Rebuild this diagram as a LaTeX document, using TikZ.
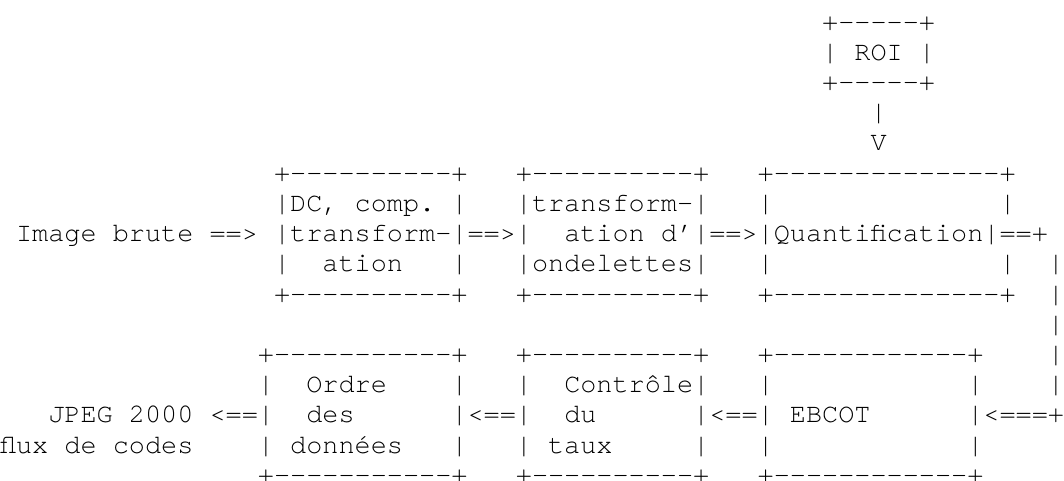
\documentclass[tikz,border=0pt]{standalone}
\usepackage{fontspec}
\setmonofont{TeX Gyre Cursor}
% one character cell: 6pt wide (10pt mono), rows 11.24pt apart
\tikzset{
  asc/.style={anchor=base west, inner sep=0pt, outer sep=0pt,
    font=\ttfamily\fontsize{10pt}{12pt}\selectfont, text=black},
}
% \seg{name}{column}{row}{characters}
\newcommand\seg[4]{\node[asc] (#1) at ({#2*6pt},{-#3*11.24pt}) {#4};}
\begin{document}
\begin{tikzpicture}
\useasboundingbox (0,0) rectangle (396pt,-178.65pt);
\fill[white] (0,0) rectangle (396pt,-178.65pt);
% ROI box and its arrow down
\seg{roiT}{51}{1}{+-----+}
\seg{roi}{51}{2}{| ROI |}
\seg{roiB}{51}{3}{+-----+}
\seg{roiL}{54}{4}{|}
\seg{roiV}{54}{5}{V}
% upper chain
\seg{dcT}{17}{6}{+----------+}
\seg{wvT}{32}{6}{+----------+}
\seg{qT}{47}{6}{+--------------+}
\seg{dc1}{17}{7}{|DC, comp. |}
\seg{wv1}{32}{7}{|transform-|}
\seg{qL1}{47}{7}{|}
\seg{qR1}{62}{7}{|}
\seg{inp}{1}{8}{Image brute ==>}
\seg{dc2}{17}{8}{|transform-|==>|}
\seg{wv2}{35}{8}{ation d’|==>|Quantification|==+}
\seg{dcL3}{17}{9}{|}
\seg{dc3}{20}{9}{ation}
\seg{dcR3}{28}{9}{|}
\seg{wv3}{32}{9}{|ondelettes|}
\seg{qL3}{47}{9}{|}
\seg{qR3}{62}{9}{|}
\seg{ret9}{65}{9}{|}
\seg{dcB}{17}{10}{+----------+}
\seg{wvB}{32}{10}{+----------+}
\seg{qB}{47}{10}{+--------------+}
\seg{ret10}{65}{10}{|}
\seg{ret11}{65}{11}{|}
% lower chain
\seg{odT}{16}{12}{+-----------+}
\seg{ctT}{32}{12}{+----------+}
\seg{ebT}{47}{12}{+------------+}
\seg{ret12}{65}{12}{|}
\seg{odL1}{16}{13}{|}
\seg{od1}{19}{13}{Ordre}
\seg{odR1}{28}{13}{|}
\seg{ctL1}{32}{13}{|}
\seg{ct1}{35}{13}{Contrôle|}
\seg{ebL1}{47}{13}{|}
\seg{ebR1}{60}{13}{|}
\seg{ret13}{65}{13}{|}
\seg{out}{3}{14}{JPEG 2000 <==|}
\seg{od2}{19}{14}{des}
\seg{odct}{28}{14}{|<==|}
\seg{ct2}{35}{14}{du}
\seg{cteb}{43}{14}{|<==|}
\seg{eb2}{49}{14}{EBCOT}
\seg{ebret}{60}{14}{|<===+}
\seg{out2}{0}{15}{flux de codes}
\seg{odL3}{16}{15}{|}
\seg{od3}{18}{15}{données}
\seg{odR3}{28}{15}{|}
\seg{ctL3}{32}{15}{|}
\seg{ct3}{34}{15}{taux}
\seg{ctR3}{43}{15}{|}
\seg{ebL3}{47}{15}{|}
\seg{ebR3}{60}{15}{|}
\seg{odB}{16}{16}{+-----------+}
\seg{ctB}{32}{16}{+----------+}
\seg{ebB}{47}{16}{+------------+}
\end{tikzpicture}
\end{document}
